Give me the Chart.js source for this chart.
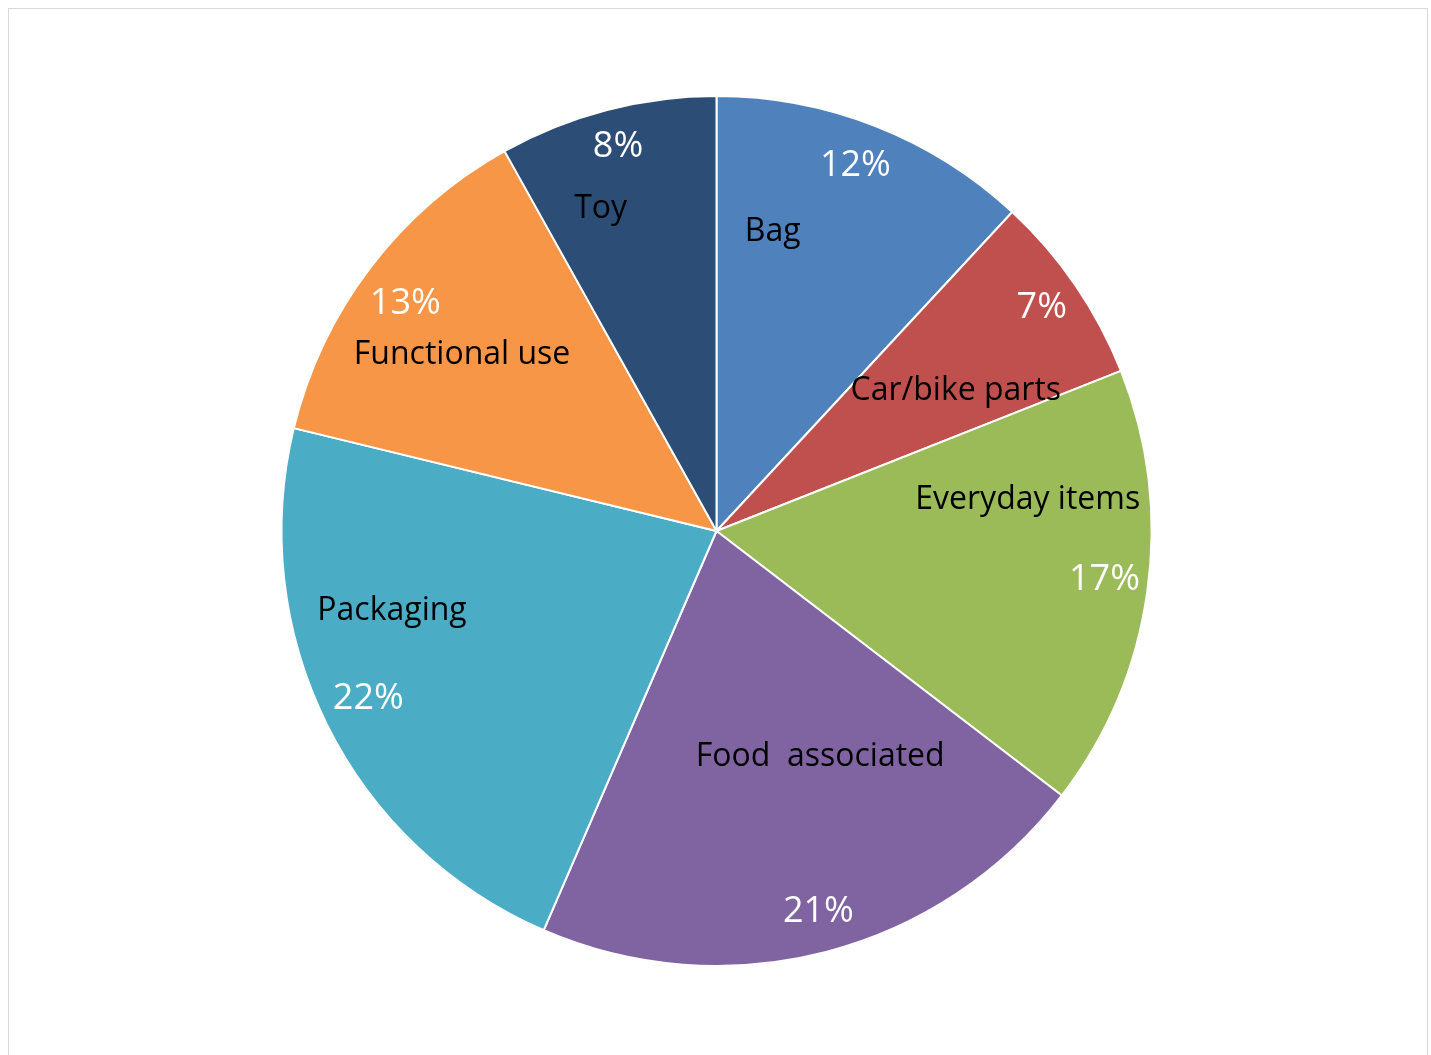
<!DOCTYPE html>
<html>
<head>
<meta charset="utf-8">
<script src="https://cdn.jsdelivr.net/npm/chart.js@4.4.0/dist/chart.umd.min.js"></script>
<style>
  html, body { margin: 0; padding: 0; background: #fff; }
  #frame {
    position: absolute; left: 8px; top: 8px;
    width: 1418px; height: 1050px;
    border: 1px solid #d9d9d9;
  }
  #wrap { position: absolute; left: 0; top: 0; width: 1431px; height: 1055px; }
</style>
</head>
<body>
<div id="frame"></div>
<div id="wrap"><canvas id="myChart" width="1431" height="1055"></canvas></div>
<script>
const categories = ['Bag', 'Car/bike parts', 'Everyday items', 'Food  associated', 'Packaging', 'Functional use', 'Toy'];
const shares = [11.9, 7.1, 16.4, 21.1, 22.3, 13.1, 8.1];
const pctLabels = ['12%', '7%', '17%', '21%', '22%', '13%', '8%'];
const sliceColors = ['#4F81BD', '#C0504D', '#9BBB59', '#8064A2', '#4BACC6', '#F79646', '#2C4D75'];

// where the labels sit: [angle offset from slice middle in degrees, fraction of radius]
const pctPlace = [[-0.6, 0.898], [-0.1, 0.907], [-0.7, 0.899], [-0.4, 0.906], [0.8, 0.888], [-1.1, 0.886], [0.2, 0.912]];
const catPlace = [[-10.8, 0.70], [4.1, 0.637], [-13.6, 0.719], [-10.1, 0.571], [12.7, 0.768], [-2.5, 0.712], [-5.2, 0.787]];

const labelPlugin = {
  id: 'sliceLabels',
  afterDatasetsDraw(chart) {
    const ctx = chart.ctx;
    const meta = chart.getDatasetMeta(0);
    ctx.save();
    ctx.textAlign = 'center';
    ctx.textBaseline = 'middle';
    meta.data.forEach((arc, i) => {
      const mid = (arc.startAngle + arc.endAngle) / 2;
      const r = arc.outerRadius;
      const put = (place, text, color, font) => {
        const a = mid + place[0] * Math.PI / 180;
        ctx.font = font;
        ctx.fillStyle = color;
        ctx.fillText(text, arc.x + Math.cos(a) * r * place[1], arc.y + Math.sin(a) * r * place[1]);
      };
      put(pctPlace[i], pctLabels[i], '#ffffff', '36px "Open Sans", sans-serif');
      put(catPlace[i], categories[i], '#000000', '32px "Open Sans", sans-serif');
    });
    ctx.restore();
  }
};

const cfg = {
  type: 'pie',
  data: {
    labels: categories,
    datasets: [{
      data: shares,
      backgroundColor: sliceColors,
      borderColor: '#ffffff',
      borderWidth: 2
    }]
  },
  options: {
    responsive: false,
    animation: false,
    layout: {
      padding: { top: 95, bottom: 88, left: 280, right: 278 }
    },
    plugins: {
      legend: { display: false },
      tooltip: { enabled: false }
    }
  },
  plugins: [labelPlugin]
};

const ctx = document.getElementById('myChart');
new Chart(ctx, cfg);
</script>
</body>
</html>
